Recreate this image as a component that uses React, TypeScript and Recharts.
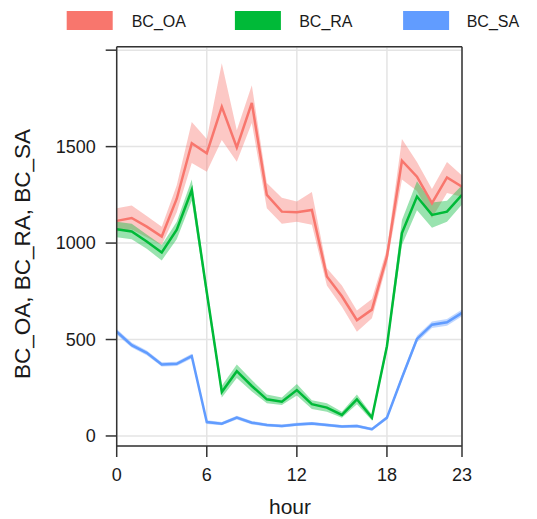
import React from 'react';
import { ComposedChart, Line, Area, XAxis, YAxis, CartesianGrid } from 'recharts';

const hours = [0, 1, 2, 3, 4, 5, 6, 7, 8, 9, 10, 11, 12, 13, 14, 15, 16, 17, 18, 19, 20, 21, 22, 23];

const oa = [1115, 1130, 1085, 1034, 1230, 1518, 1466, 1706, 1496, 1727, 1250, 1163, 1160, 1172, 827, 724, 600, 655, 930, 1427, 1344, 1207, 1340, 1292];
const oaLo = [1060, 1070, 1030, 990, 1160, 1415, 1370, 1534, 1422, 1622, 1180, 1100, 1110, 1095, 780, 670, 540, 610, 890, 1330, 1270, 1130, 1260, 1240];
const oaHi = [1180, 1195, 1140, 1085, 1300, 1627, 1540, 1932, 1585, 1818, 1311, 1235, 1215, 1265, 870, 780, 650, 710, 970, 1540, 1420, 1280, 1420, 1350];

const ra = [1072, 1060, 1008, 951, 1069, 1275, 745, 228, 336, 259, 190, 178, 238, 165, 147, 109, 190, 95, 465, 1052, 1241, 1146, 1163, 1250];
const raLo = [1030, 1020, 970, 910, 1020, 1220, 710, 200, 300, 230, 170, 160, 210, 140, 125, 95, 165, 80, 440, 990, 1170, 1080, 1110, 1200];
const raHi = [1110, 1100, 1045, 990, 1110, 1330, 770, 260, 370, 290, 215, 200, 270, 185, 170, 125, 215, 110, 490, 1120, 1320, 1210, 1220, 1300];

const sa = [540, 471, 431, 371, 374, 414, 72, 64, 95, 69, 57, 52, 60, 64, 57, 49, 52, 35, 95, 302, 503, 577, 589, 638];
const saLo = [525, 458, 419, 360, 363, 402, 62, 55, 85, 60, 49, 44, 52, 56, 49, 41, 44, 27, 85, 287, 486, 560, 572, 620];
const saHi = [555, 484, 443, 382, 385, 426, 82, 73, 105, 78, 65, 60, 68, 72, 65, 57, 60, 43, 105, 317, 520, 594, 606, 656];

const seriesNames = ['BC_OA', 'BC_RA', 'BC_SA'];
const seriesColors = ['#F8766D', '#00BA38', '#619CFF'];

const xTicks = [0, 6, 12, 18, 23];
const yTicks = [0, 500, 1000, 1500, 2000];
const yLabeled = [0, 500, 1000, 1500];

const rows = hours.map((h, i) => ({
  hour: h,
  oa: oa[i],
  oaBand: [oaLo[i], oaHi[i]],
  ra: ra[i],
  raBand: [raLo[i], raHi[i]],
  sa: sa[i],
  saBand: [saLo[i], saHi[i]],
}));

const FONT = 'Liberation Sans, Arial, Helvetica, sans-serif';
const AXIS = '#333333';

export default function App() {
  const keys = [
    { line: 'oa', band: 'oaBand' },
    { line: 'ra', band: 'raBand' },
    { line: 'sa', band: 'saBand' },
  ];
  return (
    <div style={{ position: 'absolute', left: 0, top: 0, width: 537, height: 519, fontFamily: FONT, background: '#fff' }}>
      <ComposedChart
        width={537}
        height={519}
        data={rows}
        margin={{ top: 16.7, right: 45, bottom: 0, left: 0 }}
        style={{ fontFamily: FONT }}
      >
        <CartesianGrid xAxisId="b" yAxisId="l" stroke="#e4e4e4" strokeWidth={1.5} fill="none" />
        <XAxis
          xAxisId="b"
          dataKey="hour"
          type="number"
          domain={[0, 23]}
          ticks={xTicks}
          allowDataOverflow
          height={73}
          tickSize={11}
          tickMargin={11}
          stroke={AXIS}
          strokeWidth={1.5}
          tick={{ fontSize: 18, fill: '#1a1a1a' }}
          label={(props: any) => (
            <text x={290} y={514} textAnchor="middle" fontSize={21} fill="#1a1a1a" fontFamily={FONT}>
              hour
            </text>
          )}
        />
        <XAxis
          xAxisId="t"
          orientation="top"
          dataKey="hour"
          type="number"
          domain={[0, 23]}
          ticks={xTicks}
          allowDataOverflow
          height={30}
          tickSize={10}
          tick={false}
          stroke={AXIS}
          strokeWidth={1.5}
        />
        <YAxis
          yAxisId="l"
          type="number"
          domain={[-52, 2018]}
          ticks={yTicks}
          allowDataOverflow
          width={116.7}
          tickSize={11}
          tickMargin={10}
          stroke={AXIS}
          strokeWidth={1.5}
          tick={{ fontSize: 18, fill: '#1a1a1a' }}
          tickFormatter={(v: number) => (yLabeled.includes(v) ? String(v) : '')}
          label={(props: any) => (
            <text
              x={30}
              y={254}
              transform="rotate(-90 30 254)"
              textAnchor="middle"
              fontSize={22.5}
              fill="#1a1a1a"
              fontFamily={FONT}
            >
              {seriesNames.join(', ')}
            </text>
          )}
        />
        <YAxis
          yAxisId="r"
          orientation="right"
          type="number"
          domain={[-52, 2018]}
          ticks={yTicks}
          allowDataOverflow
          width={30}
          tickSize={11}
          tick={false}
          stroke={AXIS}
          strokeWidth={1.5}
        />
        {keys.map((k, i) => (
          <Area
            key={k.band}
            xAxisId="b"
            yAxisId="l"
            type="linear"
            dataKey={k.band}
            stroke="none"
            fill={seriesColors[i]}
            fillOpacity={0.4}
            isAnimationActive={false}
            activeDot={false}
            dot={false}
          />
        ))}
        {keys.map((k, i) => (
          <Line
            key={k.line}
            xAxisId="b"
            yAxisId="l"
            type="linear"
            dataKey={k.line}
            stroke={seriesColors[i]}
            strokeWidth={2.5}
            dot={false}
            activeDot={false}
            isAnimationActive={false}
          />
        ))}
      </ComposedChart>
      <svg width={537} height={40} style={{ position: 'absolute', left: 0, top: 0 }}>
        {seriesNames.map((name, i) => (
          <g key={name}>
            <rect x={66.7 + i * 168.2} y={11} width={46} height={19} fill={seriesColors[i]} />
            <text x={131.7 + i * 167.5} y={26.7} fontSize={16} fill="#1a1a1a" fontFamily={FONT}>
              {name}
            </text>
          </g>
        ))}
      </svg>
    </div>
  );
}
